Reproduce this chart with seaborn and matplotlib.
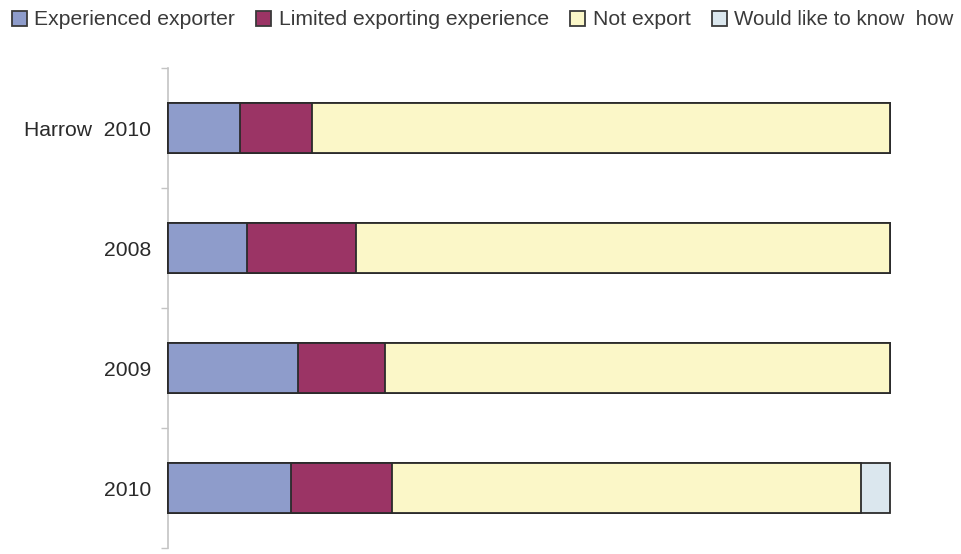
import numpy as np
import pandas as pd
import matplotlib
matplotlib.use("Agg")
import matplotlib.pyplot as plt
from matplotlib.patches import Patch
from matplotlib.ticker import FixedLocator
import seaborn as sns

# Share of businesses by exporting status (%)
categories = ["Harrow  2010", "2008", "2009", "2010"]
experienced = [10, 11, 18, 17]
limited = [10, 15, 12, 14]
not_export = [80, 74, 70, 65]
would_like = [0, 0, 0, 4]

series_names = ["Experienced exporter", "Limited exporting experience",
                "Not export", "Would like to know  how"]
series_colors = ["#8e9ccb", "#9b3465", "#fbf7c8", "#dbe7ee"]
edge_color = "#2b2b2b"

sns.set_theme(style="white")
plt.rcParams["font.family"] = ["Liberation Sans", "DejaVu Sans"]

df = pd.DataFrame({
    "category": categories,
    series_names[0]: experienced,
    series_names[1]: limited,
    series_names[2]: not_export,
    series_names[3]: would_like,
})

# running totals so each segment is drawn from the axis out to its right edge
cum = df[series_names].cumsum(axis=1)

fig = plt.figure(figsize=(9.61, 5.54), dpi=100)
ax = fig.add_axes([168 / 961, 1 - 548 / 554, (890 - 168) / 961, (548 - 68) / 554])

# widest stack first, shorter ones painted over it
for name, color in reversed(list(zip(series_names, series_colors))):
    sns.barplot(data=cum.assign(category=df["category"]), x=name, y="category",
                orient="h", color=color, edgecolor=edge_color, linewidth=1.3,
                width=0.41, saturation=1, ax=ax)

for patch in ax.patches:
    patch.set_clip_on(False)
    patch.set_zorder(3)

ax.set_xlim(0, 100)
ax.set_ylim(3.5, -0.5)
ax.set_xlabel("")
ax.set_ylabel("")
ax.set_xticks([])

for side in ("top", "right", "bottom"):
    ax.spines[side].set_visible(False)
ax.spines["left"].set_color("#c4c4c4")
ax.spines["left"].set_linewidth(1.2)
ax.spines["left"].set_zorder(1)

ax.yaxis.set_minor_locator(FixedLocator(np.arange(-0.5, 4.0, 1.0)))
ax.tick_params(axis="y", which="major", length=0, pad=12,
               labelsize=15.2, labelcolor="#2a2a2a")
ax.tick_params(axis="y", which="minor", left=True, length=5,
               width=1.0, color="#c4c4c4")

handles = [Patch(facecolor=c, edgecolor="#3a3a3a", linewidth=1.3, label=n)
           for n, c in zip(series_names, series_colors)]
leg = fig.legend(handles=handles, loc="upper left", bbox_to_anchor=(-0.001, 1.004),
                 ncol=4, frameon=False, fontsize=15.2, labelcolor="#3a3a3a",
                 handlelength=0.72, handleheight=0.72, handletextpad=0.35,
                 columnspacing=1.0, borderaxespad=0.2)
leg.get_texts()[-1].set_fontsize(14.8)

fig.savefig("out.png", dpi=100)
